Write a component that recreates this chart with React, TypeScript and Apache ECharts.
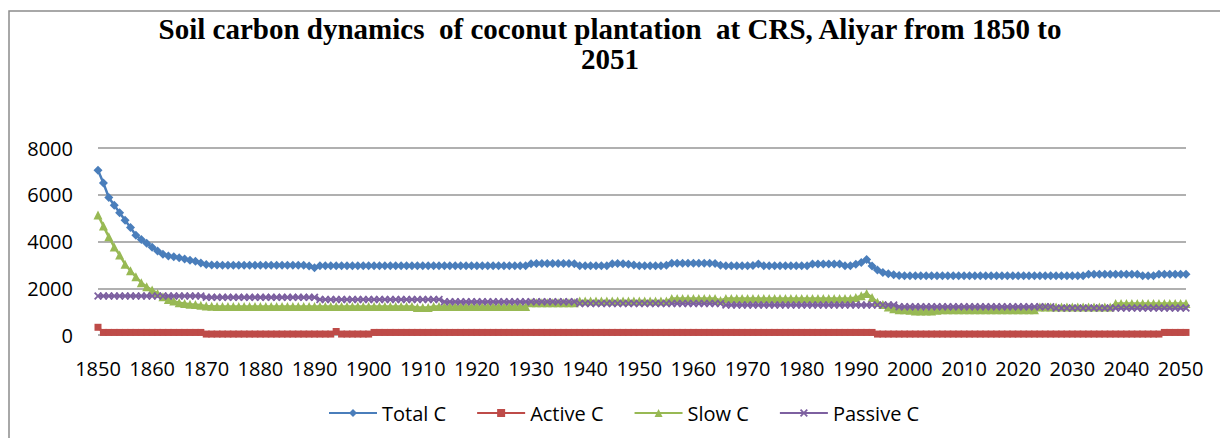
import React, { useEffect, useRef } from "react";
import * as echarts from "echarts";

const titleText = "Soil carbon dynamics  of coconut plantation  at CRS, Aliyar from 1850 to\n2051";

const years: string[] = [];
for (let y = 1850; y <= 2051; y++) years.push(String(y));

const yTicks = { min: 0, max: 8000, interval: 2000 };

const seriesNames = ["Total C", "Active C", "Slow C", "Passive C"];

// Total C, 1850-2051
const totalC = [
  7050, 6500, 5880, 5550, 5230, 4910, 4600, 4270, 4090, 3920, // 1850
  3750, 3590, 3450, 3380, 3350, 3300, 3250, 3200, 3150, 3080, // 1860
  3020, 2990, 2990, 2980, 2980, 2980, 2980, 2980, 2980, 2980, // 1870
  2980, 2980, 2980, 2980, 2980, 2980, 2980, 2980, 2980, 2950, // 1880
  2880, 2960, 2960, 2960, 2960, 2960, 2960, 2960, 2960, 2960, // 1890
  2960, 2960, 2960, 2960, 2960, 2960, 2960, 2960, 2960, 2960, // 1900
  2960, 2960, 2960, 2960, 2960, 2960, 2960, 2960, 2960, 2960, // 1910
  2960, 2960, 2960, 2960, 2960, 2960, 2960, 2960, 2960, 2960, // 1920
  3050, 3060, 3060, 3060, 3060, 3060, 3060, 3060, 3050, 2960, // 1930
  2960, 2960, 2960, 2960, 2960, 3050, 3060, 3050, 3030, 2990, // 1940
  2960, 2960, 2960, 2960, 2960, 2980, 3070, 3070, 3070, 3070, // 1950
  3070, 3070, 3070, 3070, 3060, 2980, 2960, 2960, 2960, 2960, // 1960
  2960, 2970, 3040, 2960, 2960, 2960, 2960, 2960, 2960, 2960, // 1970
  2960, 2960, 3040, 3040, 3040, 3040, 3040, 3040, 2960, 2960, // 1980
  3030, 3100, 3230, 2950, 2780, 2670, 2620, 2580, 2550, 2530, // 1990
  2530, 2530, 2530, 2530, 2530, 2530, 2530, 2530, 2530, 2530, // 2000
  2530, 2530, 2530, 2530, 2530, 2530, 2530, 2530, 2530, 2530, // 2010
  2530, 2530, 2530, 2530, 2530, 2530, 2530, 2530, 2530, 2530, // 2020
  2530, 2530, 2530, 2600, 2600, 2600, 2600, 2600, 2600, 2600, // 2030
  2600, 2600, 2600, 2530, 2530, 2530, 2600, 2600, 2600, 2600, // 2040
  2600, 2600, // 2050
];

// Active C, 1850-2051
const activeC = [
  330, 110, 110, 110, 110, 110, 110, 110, 110, 110, // 1850
  110, 110, 110, 110, 110, 110, 110, 110, 110, 110, // 1860
  40, 40, 40, 40, 40, 40, 40, 40, 40, 40, // 1870
  40, 40, 40, 40, 40, 40, 40, 40, 40, 40, // 1880
  40, 40, 40, 40, 150, 40, 40, 40, 40, 40, // 1890
  40, 110, 110, 110, 110, 110, 110, 110, 110, 110, // 1900
  110, 110, 110, 110, 110, 110, 110, 110, 110, 110, // 1910
  110, 110, 110, 110, 110, 110, 110, 110, 110, 110, // 1920
  110, 110, 110, 110, 110, 110, 110, 110, 110, 110, // 1930
  110, 110, 110, 110, 110, 110, 110, 110, 110, 110, // 1940
  110, 110, 110, 110, 110, 110, 110, 110, 110, 110, // 1950
  110, 110, 110, 110, 110, 110, 110, 110, 110, 110, // 1960
  110, 110, 110, 110, 110, 110, 110, 110, 110, 110, // 1970
  110, 110, 110, 110, 110, 110, 110, 110, 110, 110, // 1980
  110, 110, 110, 110, 40, 40, 40, 40, 40, 40, // 1990
  40, 40, 40, 40, 40, 40, 40, 40, 40, 40, // 2000
  40, 40, 40, 40, 40, 40, 40, 40, 40, 40, // 2010
  40, 40, 40, 40, 40, 40, 40, 40, 40, 40, // 2020
  40, 40, 40, 40, 40, 40, 40, 40, 40, 40, // 2030
  40, 40, 40, 40, 40, 40, 40, 110, 110, 110, // 2040
  110, 110, // 2050
];

// Slow C, 1850-2051
const slowC = [
  5130, 4660, 4200, 3770, 3420, 3030, 2750, 2490, 2240, 2060, // 1850
  1920, 1780, 1640, 1520, 1450, 1380, 1350, 1320, 1300, 1270, // 1860
  1240, 1230, 1220, 1220, 1220, 1220, 1220, 1220, 1220, 1220, // 1870
  1220, 1220, 1220, 1220, 1220, 1220, 1220, 1220, 1220, 1220, // 1880
  1220, 1220, 1220, 1220, 1220, 1220, 1220, 1220, 1220, 1220, // 1890
  1220, 1220, 1220, 1220, 1220, 1220, 1220, 1220, 1220, 1180, // 1900
  1180, 1180, 1220, 1220, 1220, 1220, 1220, 1220, 1220, 1220, // 1910
  1220, 1220, 1220, 1220, 1220, 1220, 1220, 1220, 1220, 1220, // 1920
  1380, 1380, 1380, 1380, 1380, 1380, 1380, 1380, 1380, 1450, // 1930
  1450, 1450, 1450, 1450, 1450, 1450, 1450, 1450, 1450, 1450, // 1940
  1450, 1450, 1450, 1450, 1450, 1450, 1560, 1560, 1560, 1560, // 1950
  1560, 1560, 1560, 1560, 1560, 1480, 1560, 1560, 1560, 1560, // 1960
  1560, 1560, 1560, 1560, 1560, 1560, 1560, 1560, 1560, 1560, // 1970
  1560, 1560, 1560, 1560, 1560, 1560, 1560, 1560, 1560, 1560, // 1980
  1600, 1680, 1780, 1600, 1400, 1300, 1200, 1120, 1080, 1080, // 1990
  1060, 1030, 1030, 1030, 1030, 1060, 1080, 1080, 1080, 1080, // 2000
  1080, 1080, 1080, 1080, 1080, 1080, 1080, 1080, 1080, 1080, // 2010
  1080, 1080, 1080, 1080, 1200, 1200, 1200, 1200, 1200, 1200, // 2020
  1200, 1200, 1200, 1200, 1200, 1200, 1200, 1200, 1350, 1350, // 2030
  1350, 1350, 1350, 1350, 1350, 1350, 1350, 1350, 1350, 1350, // 2040
  1350, 1350, // 2050
];

// Passive C, 1850-2051
const passiveC = [
  1670, 1670, 1670, 1670, 1670, 1670, 1670, 1670, 1670, 1670, // 1850
  1670, 1670, 1670, 1670, 1670, 1670, 1670, 1670, 1670, 1670, // 1860
  1610, 1610, 1610, 1610, 1610, 1610, 1610, 1610, 1610, 1610, // 1870
  1610, 1610, 1610, 1610, 1610, 1610, 1610, 1610, 1610, 1610, // 1880
  1610, 1520, 1520, 1520, 1520, 1520, 1520, 1520, 1520, 1520, // 1890
  1520, 1520, 1520, 1520, 1520, 1520, 1520, 1520, 1520, 1520, // 1900
  1520, 1520, 1520, 1520, 1420, 1420, 1420, 1420, 1420, 1420, // 1910
  1420, 1420, 1420, 1420, 1420, 1420, 1420, 1420, 1420, 1420, // 1920
  1420, 1420, 1420, 1420, 1420, 1420, 1420, 1420, 1420, 1350, // 1930
  1350, 1350, 1350, 1350, 1350, 1350, 1350, 1350, 1350, 1350, // 1940
  1350, 1350, 1350, 1350, 1350, 1350, 1350, 1350, 1350, 1350, // 1950
  1350, 1350, 1350, 1350, 1350, 1350, 1280, 1280, 1280, 1280, // 1960
  1280, 1280, 1280, 1280, 1280, 1280, 1280, 1280, 1280, 1280, // 1970
  1280, 1280, 1280, 1280, 1280, 1280, 1280, 1280, 1280, 1280, // 1980
  1280, 1280, 1280, 1280, 1280, 1280, 1280, 1280, 1210, 1210, // 1990
  1210, 1210, 1210, 1210, 1210, 1210, 1210, 1210, 1210, 1210, // 2000
  1210, 1210, 1210, 1210, 1210, 1210, 1210, 1210, 1210, 1210, // 2010
  1210, 1210, 1210, 1210, 1210, 1210, 1210, 1150, 1150, 1150, // 2020
  1150, 1150, 1150, 1150, 1150, 1150, 1150, 1150, 1150, 1150, // 2030
  1150, 1150, 1150, 1150, 1150, 1150, 1150, 1150, 1150, 1150, // 2040
  1150, 1150, // 2050
];

const colors = ["#4a7ebb", "#be4b48", "#98b954", "#7d60a0"];
const symbols = [
  "diamond",
  "rect",
  "triangle",
  "path://M0,1.6L1.6,0L5,3.4L8.4,0L10,1.6L6.6,5L10,8.4L8.4,10L5,6.6L1.6,10L0,8.4L3.4,5Z",
];
const symbolSizes = [9, 7, 9, 8];
const allData = [totalC, activeC, slowC, passiveC];

const FONT = "'Open Sans', 'Liberation Sans', sans-serif";

export default function App() {
  const ref = useRef<HTMLDivElement>(null);
  useEffect(() => {
    if (!ref.current) return;
    const chart = echarts.init(ref.current, undefined, { renderer: "svg" });
    chart.setOption({
      animation: false,
      backgroundColor: "#ffffff",
      title: {
        text: titleText,
        left: "center",
        top: 9,
        textStyle: {
          fontFamily: "'Liberation Serif', 'Times New Roman', serif",
          fontWeight: "bold",
          fontSize: 29,
          lineHeight: 30,
          color: "#000",
        },
      },
      graphic: [
        {
          type: "rect",
          z: -10,
          silent: true,
          shape: { x: 9, y: 11, width: 1400, height: 600 },
          style: { fill: "none", stroke: "#8c8c8c", lineWidth: 1.5 },
        },
      ],
      legend: {
        data: seriesNames,
        left: 323,
        top: 398,
        itemGap: 30,
        itemWidth: 48,
        itemHeight: 10,
        textStyle: { fontFamily: FONT, fontSize: 20, color: "#000" },
      },
      grid: { left: 98, right: 34, top: 148, bottom: 103, containLabel: false },
      xAxis: {
        type: "category",
        data: years,
        boundaryGap: false,
        axisLine: { show: false },
        axisTick: { show: false },
        axisLabel: {
          interval: 9,
          margin: 23,
          fontFamily: FONT,
          fontSize: 20,
          color: "#000",
        },
        splitLine: { show: false },
      },
      yAxis: {
        type: "value",
        min: yTicks.min,
        max: yTicks.max,
        interval: yTicks.interval,
        axisLine: { show: false },
        axisTick: { show: false },
        axisLabel: {
          margin: 25,
          fontFamily: FONT,
          fontSize: 20,
          color: "#000",
          formatter: (v: number) => String(v),
        },
        splitLine: { lineStyle: { color: "#969696", width: 1.5 } },
      },
      series: seriesNames.map((name, i) => ({
        name,
        type: "line",
        data: allData[i],
        symbol: symbols[i],
        symbolSize: symbolSizes[i],
        showAllSymbol: true,
        lineStyle: { color: colors[i], width: 2.5 },
        itemStyle: { color: colors[i] },
        emphasis: { disabled: true },
      })),
    });
    return () => chart.dispose();
  }, []);
  return (
    <div
      ref={ref}
      style={{ position: "fixed", left: 0, top: 0, width: 1220, height: 438 }}
    />
  );
}
